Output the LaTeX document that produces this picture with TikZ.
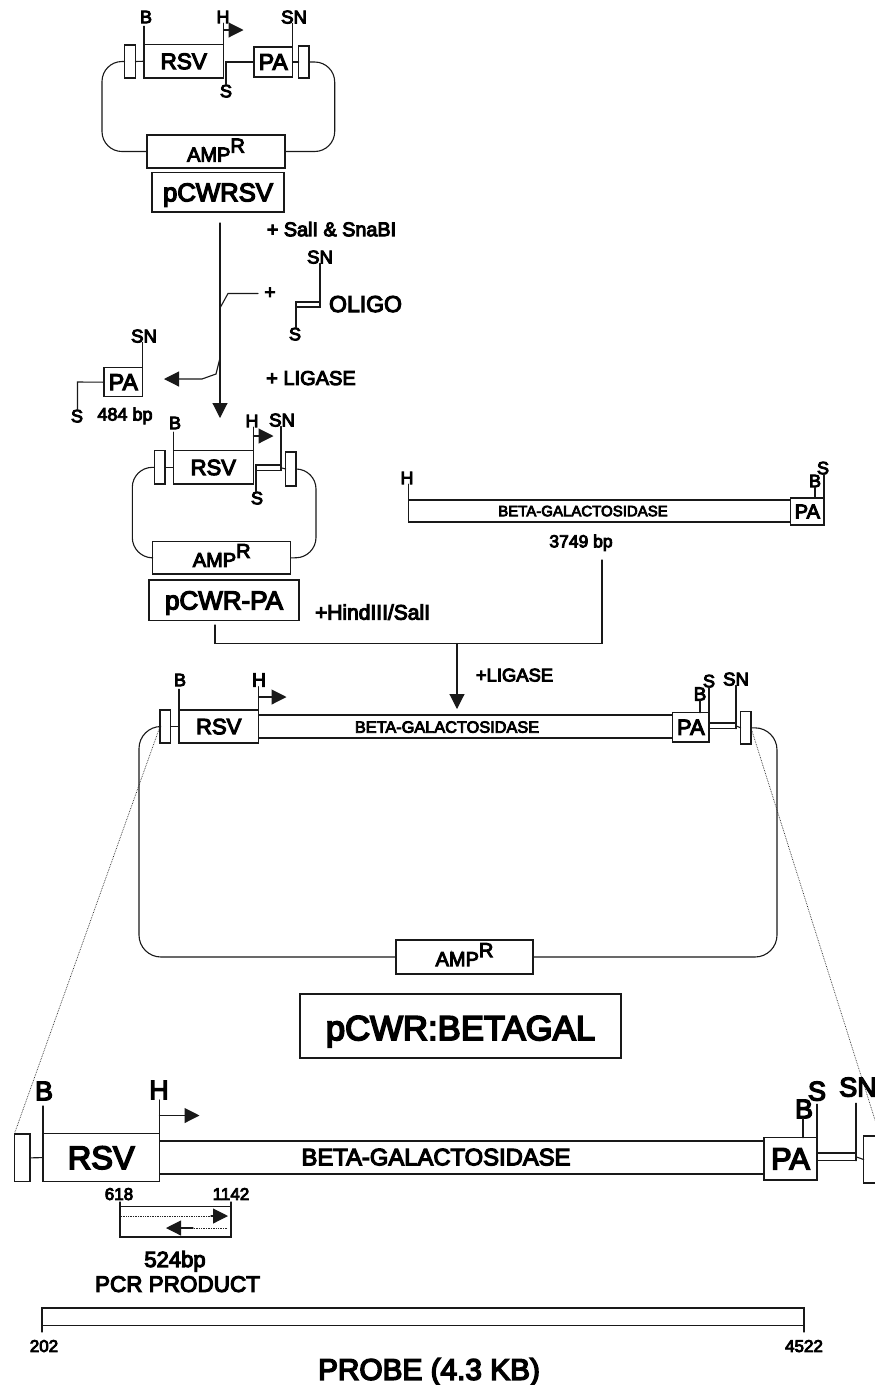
\documentclass[tikz,border=0pt]{standalone}
\usepackage{fontspec}
\setmainfont{Liberation Sans}[FakeBold=5]
\usetikzlibrary{arrows.meta}
\newcommand{\fz}[1]{\fontsize{#1}{#1}\selectfont}
\tikzset{
  x=1pt,y=-1pt,
  wire/.style={draw=black!90,line width=1.1pt,line cap=round},
  arr/.style={wire,-{Triangle[length=15pt,width=15pt]}},
  loopline/.style={wire,rounded corners=20pt},
  dots/.style={draw=black!85,line width=.7pt,densely dotted},
  box/.style={draw=black!90,line width=1.1pt,fill=white,inner sep=0pt,outer sep=0pt,text depth=0pt},
  lbl/.style={inner sep=0pt,outer sep=0pt,text depth=0pt,text=black},
}
\newcommand{\bx}[6]{%
  \pgfmathsetmacro{\cxx}{(#2+#4)/2}\pgfmathsetmacro{\cyy}{(#3+#5)/2}%
  \pgfmathsetmacro{\wxx}{#4-#2}\pgfmathsetmacro{\hyy}{#5-#3}%
  \node[box,minimum width=\wxx pt,minimum height=\hyy pt] (#1) at (\cxx,\cyy) {#6};}
\newcommand{\tx}[5]{\node[lbl] (#1) at (#2,#3) {\fz{#4}#5};}
\newcommand{\ampr}[2]{\fz{#1}\raisebox{-#2pt}{\smash{AMP\raisebox{.45em}{R}}}}
\begin{document}
\begin{tikzpicture}
\useasboundingbox (0,0) rectangle (875,1385);
\fill[white] (0,0) rectangle (875,1385);

%% ---------- pCWRSV ----------
\bx{lA}{124.5}{45}{135.5}{78}{}
\bx{rsvA}{144}{44.5}{223.5}{78}{\fz{22.5}RSV}
\bx{paA}{254}{47}{292.5}{77}{\fz{23}PA}
\bx{rA}{298.7}{46}{309}{78}{}
\bx{ampA}{147}{135}{285}{168}{\ampr{20}{10}}
\bx{nameA}{152}{172.7}{284}{212}{\fz{25.7}pCWRSV}
\tx{tBA}{146}{17}{18}{B}
\tx{tHA}{223}{17}{18}{H}
\tx{tSNA}{294}{17}{18.5}{SN}
\tx{tSA}{226}{91}{18}{S}
\coordinate (pA) at (223.5,30);
\coordinate (pAe) at (243.5,30);
\coordinate (cA1) at (102,151.5);
\coordinate (cA2) at (334.7,151.5);
\coordinate (sA) at (226,62);
\draw[wire,shorten >=3pt] (rsvA.north west) -- (rsvA.north west |- tBA.south);
\draw[wire] (rsvA.north east) -- (rsvA.north east |- tHA.south);
\draw[wire] (paA.north east) -- (paA.north east |- tSNA.south);
\draw[wire] (sA |- tSA.north) -- (sA) -- (paA.west);
\draw[wire] (lA.east) -- (rsvA.west);
\draw[wire] (paA.east) -- (rA.west);
\draw[arr] (pA) -- (pAe);
\draw[loopline] (lA.west) -| (cA1) -- (ampA.west);
\draw[loopline] (rA.east) -| (cA2) -- (ampA.east);

%% ---------- first step ----------
\tx{tSal}{331.5}{229}{19.8}{+ SalI \& SnaBI}
\tx{tPlus}{270}{293}{19}{+}
\tx{tOSN}{320}{257}{18.5}{SN}
\tx{tOS}{295}{334}{18}{S}
\tx{tOligo}{365.5}{304}{23}{OLIGO}
\tx{tLig}{311}{378}{20}{+ LIGASE}
\bx{oligo}{296}{302}{320}{307}{}
\draw[wire] (oligo.north east) -- (oligo.north east |- tOSN.south);
\draw[wire] (oligo.north west) -- (oligo.north west |- tOS.north);
\coordinate (mainS) at (220,223);
\coordinate (mainE) at (220,418);
\draw[arr] (mainS) -- (mainE);
\coordinate (b1a) at (220,308);
\coordinate (b1b) at (228,293.5);
\coordinate (b1c) at (258,293.5);
\draw[wire] (b1a) -- (b1b) -- (b1c);
\bx{paS}{104}{367.7}{142.7}{396.7}{\fz{23}PA}
\tx{tSNS}{144}{336}{18.5}{SN}
\tx{tSS}{77}{416}{18}{S}
\tx{t484}{125}{414}{18}{484 bp}
\coordinate (cS) at (77.5,382);
\draw[wire] (paS.north east) -- (paS.north east |- tSNS.south);
\draw[wire] (paS.west) -- (cS) -- (cS |- tSS.north);
\coordinate (b2a) at (220,358);
\coordinate (b2b) at (216,374);
\coordinate (b2c) at (202,379);
\coordinate (b2d) at (164,379);
\draw[arr] (b2a) -- (b2b) -- (b2c) -- (b2d);

%% ---------- pCWR-PA ----------
\bx{lB}{154.3}{450.7}{165}{484}{}
\bx{rsvB}{173.3}{450.7}{253.3}{484}{\fz{22}RSV}
\bx{rB}{285.7}{452}{296}{486}{}
\bx{ampB}{152.7}{541.7}{290.7}{574}{\ampr{20}{9}}
\bx{nameB}{149}{580}{299}{620.7}{\fz{26}pCWR-PA}
\bx{dblB}{256}{465}{281}{470.5}{}
\tx{tBB}{175}{423}{18}{B}
\tx{tHB}{252}{421}{18}{H}
\tx{tSNB}{282}{420}{18.5}{SN}
\tx{tSB}{257}{498}{18}{S}
\tx{tHind}{372.5}{612}{21}{+HindIII/SalI}
\coordinate (pB) at (253.3,436);
\coordinate (pBe) at (273.5,436);
\coordinate (cB1) at (132.3,557.5);
\coordinate (cB2) at (316,557.5);
\draw[wire,shorten >=3pt] (rsvB.north west) -- (rsvB.north west |- tBB.south);
\draw[wire] (rsvB.north east) -- (rsvB.north east |- tHB.south);
\draw[wire] (dblB.south east) -- (dblB.south east |- tSNB.south);
\draw[wire] (dblB.north west) -- (dblB.north west |- tSB.north);
\draw[wire] (lB.east) -- (rsvB.west);
\draw[wire] (dblB.east) -- (rB.west);
\draw[arr] (pB) -- (pBe);
\draw[loopline] (lB.west) -| (cB1) -- (ampB.west);
\draw[loopline] (rB.east) -| (cB2) -- (ampB.east);

%% ---------- beta-galactosidase fragment ----------
\bx{bgF}{408.5}{500}{790.7}{522}{}
\tx{tBgF}{583}{511}{15}{BETA-GALACTOSIDASE}
\bx{paF}{790.7}{498}{824}{525}{\fz{20}PA}
\tx{tHF}{407}{478}{18}{H}
\tx{tBF}{815}{481}{18}{B}
\tx{tSF}{823}{468}{18}{S}
\tx{t3749}{581}{541}{17.5}{3749 bp}
\draw[wire] (bgF.north west) -- (bgF.north west |- tHF.south);
\coordinate (bF) at (815,498);
\draw[wire] (bF) -- (bF |- tBF.south);
\draw[wire] (paF.north east) -- (paF.north east |- tSF.south);

%% ---------- join ----------
\coordinate (jA) at (215,625);
\coordinate (jB) at (215,643.5);
\coordinate (jC) at (602,643.5);
\coordinate (jD) at (602,560);
\coordinate (jM) at (457,643.5);
\coordinate (jE) at (457,709);
\draw[wire] (jA) -- (jB) -- (jC) -- (jD);
\draw[arr] (jM) -- (jE);
\tx{tLig2}{514.5}{675}{18.4}{+LIGASE}

%% ---------- pCWR:BETAGAL ----------
\bx{lC}{160}{710}{170.7}{743}{}
\bx{rsvC}{179}{710}{258.5}{743}{\fz{22}RSV}
\bx{bgC}{258.5}{715}{672.7}{738}{}
\tx{tBgC}{447}{727}{16.3}{BETA-GALACTOSIDASE}
\bx{paC}{672.7}{712.7}{709}{742}{\fz{22}PA}
\bx{dblC}{709}{723}{736}{728.7}{}
\bx{rC}{740.7}{711.7}{751}{744}{}
\bx{ampC}{396}{940}{533}{974}{\ampr{20}{9}}
\bx{nameC}{300}{994}{621}{1058}{\fz{34.7}\raisebox{-4pt}{pCWR:BETAGAL}}
\tx{tBC}{180}{680}{18}{B}
\tx{tHC}{259}{680}{19}{H}
\tx{tBC2}{700}{694}{19}{B}
\tx{tSC}{709}{681}{18}{S}
\tx{tSNC}{736}{679}{18.5}{SN}
\coordinate (pC) at (258.5,697);
\coordinate (pCe) at (286.5,697);
\coordinate (bC) at (700,712.7);
\coordinate (cC1) at (139,957);
\coordinate (cC2) at (777,957);
\draw[wire,shorten >=3pt] (rsvC.north west) -- (rsvC.north west |- tBC.south);
\draw[wire] (rsvC.north east) -- (rsvC.north east |- tHC.south);
\draw[wire] (bC) -- (bC |- tBC2.south);
\draw[wire] (paC.north east) -- (paC.north east |- tSC.south);
\draw[wire] (dblC.south east) -- (dblC.south east |- tSNC.south);
\draw[wire] (lC.east) -- (rsvC.west);
\draw[wire] (dblC.east) -- (rC.west);
\draw[arr] (pC) -- (pCe);
\draw[loopline,rounded corners=22pt] (lC.west) -| (cC1) -- (ampC.west);
\draw[loopline,rounded corners=22pt] (rC.east) -| (cC2) -- (ampC.east);

%% ---------- enlarged insert ----------
\bx{lD}{14.3}{1134}{30}{1181.7}{}
\bx{rsvD}{43}{1133.5}{159.5}{1181.7}{\fz{32.5}RSV}
\bx{bgD}{159.5}{1141}{764}{1174}{}
\tx{tBgD}{436}{1157}{23.8}{BETA-GALACTOSIDASE}
\bx{paD}{764}{1137.7}{817}{1180}{\fz{30.7}PA}
\bx{dblD}{817}{1153}{856}{1160.7}{}
\bx{rD}{863.7}{1136}{885}{1183}{}
\tx{tBD}{44}{1091}{27}{B}
\tx{tHD}{159}{1090}{27}{H}
\tx{tBD2}{804}{1109}{27}{B}
\tx{tSD}{817}{1091}{27}{S}
\tx{tSND}{858}{1087}{27}{SN}
\coordinate (pD) at (159.5,1115.5);
\coordinate (pDe) at (199.5,1115.5);
\coordinate (bD) at (803,1137.7);
\draw[wire] (rsvD.north west) -- ++(0,-27.5);
\draw[wire] (rsvD.north east) -- ++(0,-33.5);
\draw[wire] (bD) -- ++(0,-19.5);
\draw[wire] (paD.north east) -- ++(0,-33.5);
\draw[wire] (dblD.south east) -- ++(0,-57.5);
\draw[wire] (lD.east) -- (rsvD.west);
\draw[wire] (dblD.east) -- (rD.west);
\draw[arr] (pD) -- (pDe);
\draw[dots] (lC.west) -- (lD.north west);
\coordinate (dotEnd) at (876,1123);
\draw[dots] (rC.east) -- (dotEnd);

%% ---------- PCR product ----------
\tx{t618}{119}{1194}{17}{618}
\tx{t1142}{231}{1194}{17}{1142}
\bx{pcr}{120}{1206.7}{231}{1237}{}
\coordinate (tL) at (120,1202);
\coordinate (tR) at (231,1202);
\draw[wire] (pcr.north west) -- (tL);
\draw[wire] (pcr.north east) -- (tR);
\coordinate (a1s) at (121,1216);
\coordinate (a1m) at (213,1216);
\coordinate (a1e) at (228,1216);
\coordinate (a2s) at (227,1228);
\coordinate (a2m) at (193,1228);
\coordinate (a2e) at (166,1228);
\draw[dots] (a1s) -- (a1m);
\draw[wire,-{Triangle[length=15pt,width=15pt]}] (a1m) ++(-2,0) -- (a1e);
\draw[dots] (a2s) -- (a2m);
\draw[arr] (a2m) -- (a2e);
\tx{t524}{175}{1259}{22}{524bp}
\tx{tPcr}{177.5}{1284}{22.5}{PCR PRODUCT}

%% ---------- probe ----------
\bx{probe}{42}{1308}{804}{1325.7}{}
\coordinate (pbL) at (42,1332);
\coordinate (pbR) at (804,1332);
\draw[wire] (probe.south west) -- (pbL);
\draw[wire] (probe.south east) -- (pbR);
\tx{t202}{44}{1346}{17}{202}
\tx{t4522}{804}{1346}{17}{4522}
\tx{tProbe}{429}{1369}{29.8}{PROBE (4.3 KB)}
\end{tikzpicture}
\end{document}
